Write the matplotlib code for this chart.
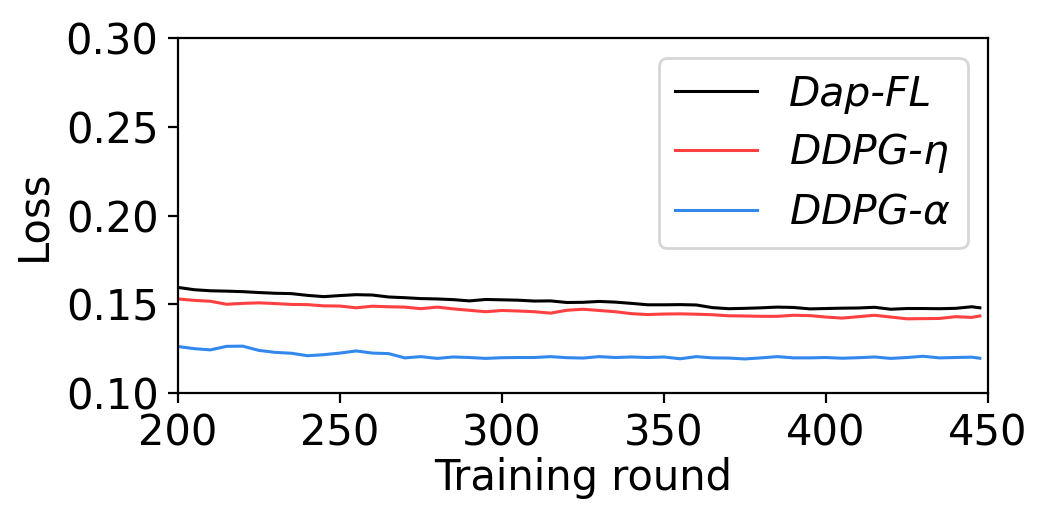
import numpy as np
import matplotlib
matplotlib.use("Agg")
import matplotlib.pyplot as plt

# training rounds (sampled every 5, last point 447.5)
rounds = np.append(np.arange(200, 450, 5), 447.5)

dap_fl = [0.1595, 0.1582, 0.1576, 0.1574, 0.1571, 0.1566, 0.1562, 0.1560, 0.1550, 0.1543,
          0.1549, 0.1554, 0.1552, 0.1541, 0.1537, 0.1532, 0.1530, 0.1526, 0.1519, 0.1527,
          0.1525, 0.1523, 0.1518, 0.1519, 0.1510, 0.1511, 0.1516, 0.1512, 0.1505, 0.1497,
          0.1497, 0.1498, 0.1496, 0.1481, 0.1475, 0.1477, 0.1480, 0.1484, 0.1482, 0.1474,
          0.1476, 0.1478, 0.1479, 0.1483, 0.1472, 0.1476, 0.1476, 0.1475, 0.1477, 0.1486,
          0.1480]

ddpg_eta = [0.1530, 0.1522, 0.1517, 0.1500, 0.1505, 0.1508, 0.1504, 0.1499, 0.1498, 0.1491,
            0.1490, 0.1480, 0.1489, 0.1486, 0.1484, 0.1475, 0.1484, 0.1474, 0.1466, 0.1458,
            0.1465, 0.1462, 0.1458, 0.1450, 0.1466, 0.1472, 0.1465, 0.1458, 0.1447, 0.1442,
            0.1445, 0.1446, 0.1444, 0.1441, 0.1435, 0.1434, 0.1432, 0.1432, 0.1438, 0.1436,
            0.1428, 0.1422, 0.1430, 0.1438, 0.1428, 0.1418, 0.1419, 0.1420, 0.1430, 0.1426,
            0.1434]

ddpg_alpha = [0.1262, 0.1250, 0.1243, 0.1263, 0.1264, 0.1240, 0.1229, 0.1224, 0.1210, 0.1216,
              0.1225, 0.1237, 0.1225, 0.1222, 0.1198, 0.1205, 0.1195, 0.1203, 0.1200, 0.1195,
              0.1199, 0.1200, 0.1200, 0.1205, 0.1199, 0.1197, 0.1205, 0.1200, 0.1203, 0.1200,
              0.1203, 0.1193, 0.1205, 0.1198, 0.1197, 0.1192, 0.1198, 0.1205, 0.1198, 0.1198,
              0.1200, 0.1196, 0.1199, 0.1203, 0.1195, 0.1200, 0.1207, 0.1198, 0.1200, 0.1202,
              0.1196]

plt.rcParams['font.size'] = 15
plt.rcParams['mathtext.fontset'] = 'dejavusans'

fig = plt.figure(figsize=(5.24, 2.625), dpi=200)
ax = fig.add_axes([0.1698, 0.2514, 0.7729, 0.6762])

ax.plot(rounds, dap_fl, color='black', lw=1.1, label='Dap-FL')
ax.plot(rounds, ddpg_eta, color='#ff4040', lw=1.1, label=r'DDPG-$\eta$')
ax.plot(rounds, ddpg_alpha, color='#3388ee', lw=1.1, label=r'DDPG-$\alpha$')

ax.set_xlim(200, 450)
ax.set_ylim(0.10, 0.30)
ax.set_xticks([200, 250, 300, 350, 400, 450])
ax.set_yticks([0.10, 0.15, 0.20, 0.25, 0.30])
ax.set_yticklabels(['0.10', '0.15', '0.20', '0.25', '0.30'])
ax.set_xlabel('Training round', labelpad=1)
ax.set_ylabel('Loss')

leg = ax.legend(loc='upper right', labelspacing=0.43,
                prop={'style': 'italic', 'size': 14.7})

fig.savefig('out.png', dpi=200)
